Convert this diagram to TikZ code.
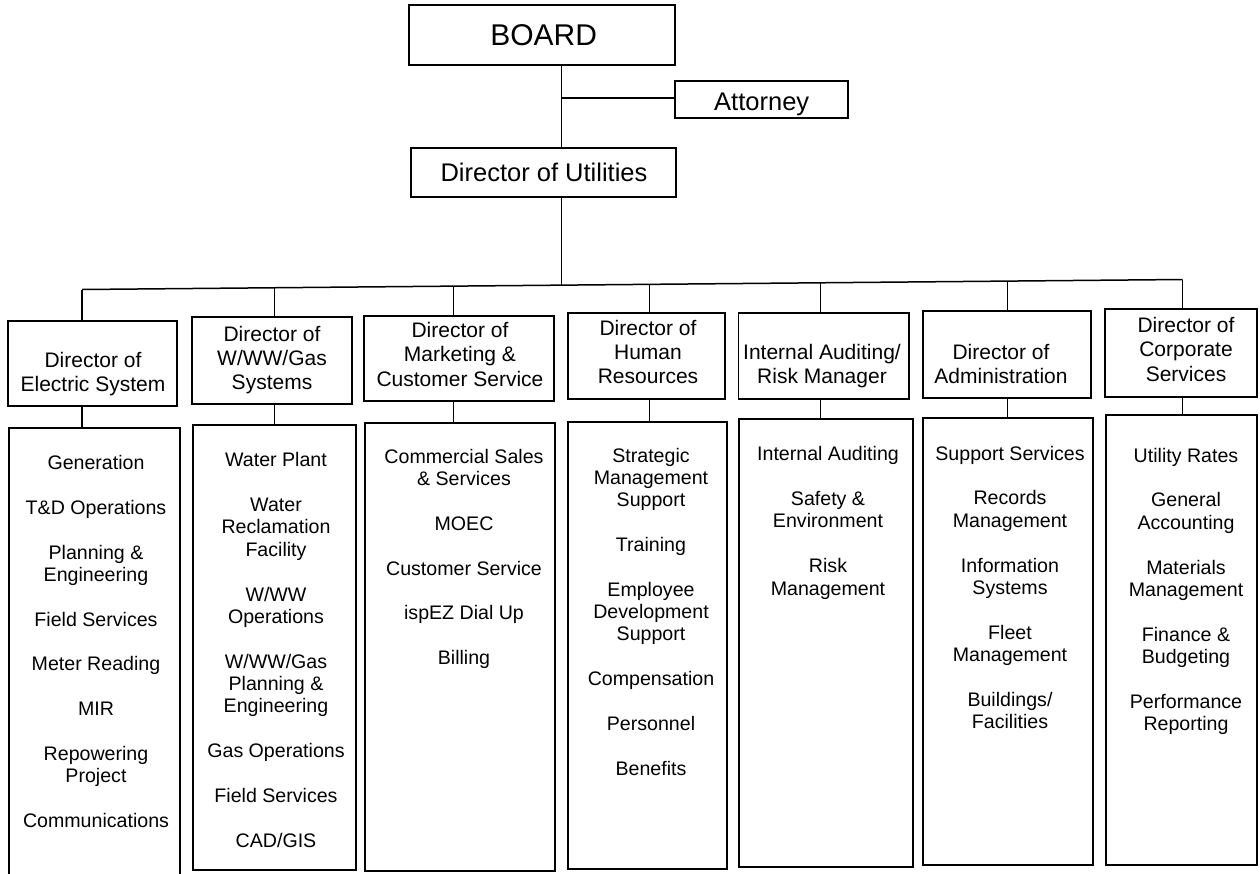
\documentclass[tikz,border=0pt]{standalone}
\usepackage{fontspec}
\setmainfont{Liberation Sans}
\usetikzlibrary{fit}
\newcommand\igap{\\[22.5pt]}
\begin{document}
\begin{tikzpicture}[x=1pt,y=-1pt,
  box/.style={draw, line width=1.8pt, inner sep=0pt, rectangle},
  conn/.style={line width=1.5pt},
  toptext/.style={font=\fontsize{25.5}{28}\selectfont, inner sep=0pt, anchor=base},
  dtext/.style={font=\fontsize{21}{24.3}\selectfont, align=center, inner sep=0pt, anchor=north},
  utext/.style={font=\fontsize{19.6}{22.3}\selectfont, align=center, inner sep=0pt, anchor=north},
]
\useasboundingbox (0,0) rectangle (1260,873);
\clip (0,0) rectangle (1260,873);

% top level
\node[box, fit={(409,5) (675,65)}] (board) {};
\node[toptext, font=\fontsize{30}{32}\selectfont] (boardt) at (543.7,45) {BOARD};
\node[box, fit={(675,81) (848,118)}] (attorney) {};
\node[toptext] (attt) at (761.7,110) {Attorney};
\node[box, fit={(411,148) (676,197)}] (util) {};
\node[toptext] (utilt) at (544,181) {Director of Utilities};

% directors
\node[box, fit={(8,321) (177,406)}] (d1) {};
\node[box, fit={(192,317) (352,404)}] (d2) {};
\node[box, fit={(364,316) (554,401)}] (d3) {};
\node[box, fit={(568,313) (725,399)}] (d4) {};
\node[box, fit={(738.5,312.8) (909,399)}] (d5) {};
\node[box, fit={(922.7,311) (1091,398)}] (d6) {};
\node[box, fit={(1105,308.7) (1257,396.6)}] (d7) {};

\node[dtext] (t1) at (93,351.7) {Director of\\Electric System};
\node[dtext] (t2) at (272,325.7) {Director of\\W/WW/Gas\\Systems};
\node[dtext] (t3) at (460,322) {Director of\\Marketing \&\\Customer Service};
\node[dtext] (t4) at (648,319.7) {Director of\\Human\\Resources};
\node[dtext] (t5) at (822,344.1) {Internal Auditing/\\Risk Manager};
\node[dtext] (t6) at (1001,344.1) {Director of\\Administration};
\node[dtext] (t7) at (1186,317.1) {Director of\\Corporate\\Services};

% unit boxes
\node[box, fit={(9,428) (180,885)}] (u1) {};
\node[box, fit={(193,425) (356,870)}] (u2) {};
\node[box, fit={(365,423) (555,871)}] (u3) {};
\node[box, fit={(568,422) (727,869)}] (u4) {};
\node[box, fit={(739,419) (913,867)}] (u5) {};
\node[box, fit={(923,418) (1093,865)}] (u6) {};
\node[box, fit={(1106,415) (1257,865)}] (u7) {};

\node[utext] (l1) at (96,455) {Generation\igap T\&D Operations\igap Planning \&\\Engineering\igap Field Services\igap Meter Reading\igap MIR\igap Repowering\\Project\igap Communications};
\node[utext] (l2) at (276,452.4) {Water Plant\igap Water\\Reclamation\\Facility\igap W/WW\\Operations\igap W/WW/Gas\\Planning \&\\Engineering\igap Gas Operations\igap Field Services\igap CAD/GIS};
\node[utext] (l3) at (464,448.7) {Commercial Sales\\\& Services\igap MOEC\igap Customer Service\igap ispEZ Dial Up\igap Billing};
\node[utext] (l4) at (651,447.7) {Strategic\\Management\\Support\igap Training\igap Employee\\Development\\Support\igap Compensation\igap Personnel\igap Benefits};
\node[utext] (l5) at (828,446.4) {Internal Auditing\igap Safety \&\\Environment\igap Risk\\Management};
\node[utext] (l6) at (1010,445.7) {Support Services\igap Records\\Management\igap Information\\Systems\igap Fleet\\Management\igap Buildings/\\Facilities};
\node[utext] (l7) at (1186,447.7) {Utility Rates\igap General\\Accounting\igap Materials\\Management\igap Finance \&\\Budgeting\igap Performance\\Reporting};

% connectors
\coordinate (j) at (561.3,98);
\coordinate (bj) at (561.3,285.1);
\draw[conn] (board.south -| j) -- (util.north -| j);
\draw[conn] (j) -- (attorney.west |- j);
\draw[conn] (util.south -| j) -- (bj);

\coordinate (b1) at (82,289.5);
\coordinate (b2) at (274.5,287.75);
\coordinate (b3) at (453.5,286.1);
\coordinate (b4) at (649.5,284.3);
\coordinate (b5) at (820.5,282.8);
\coordinate (b6) at (1007.5,281.1);
\coordinate (b7) at (1182.5,279.5);
\draw[conn] (b1) -- (b7);
\foreach \i in {1,...,7}{
  \draw[conn] (b\i) -- (b\i |- d\i.north);
  \draw[conn] (b\i |- d\i.south) -- (b\i |- u\i.north);
}
\end{tikzpicture}
\end{document}
